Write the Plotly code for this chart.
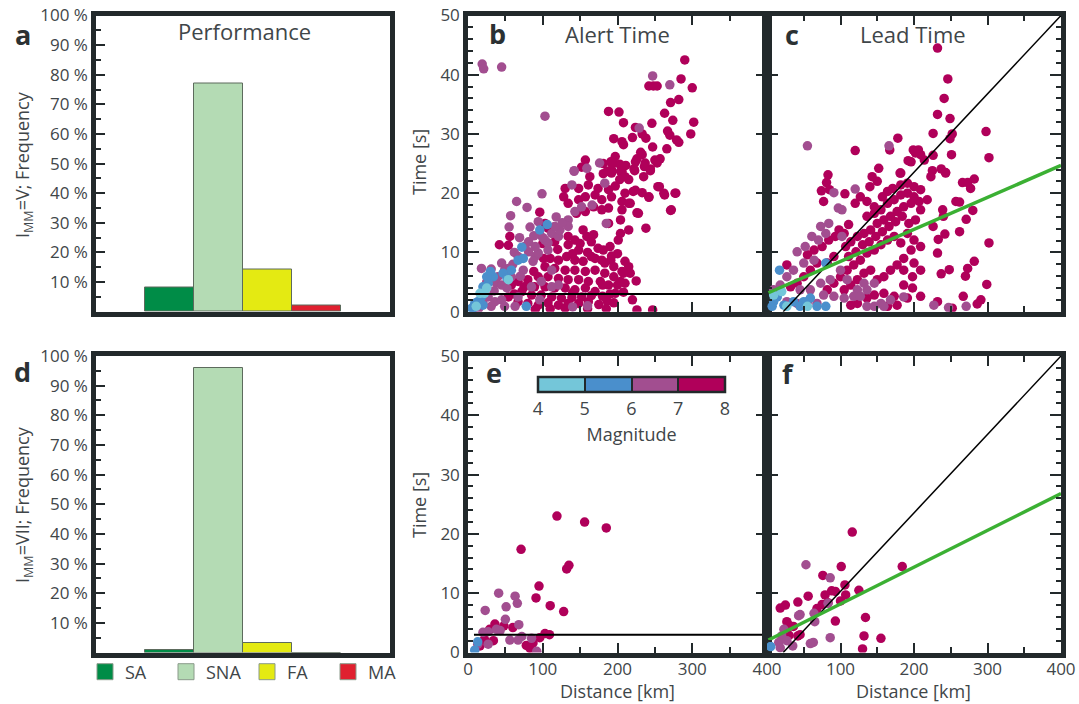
import plotly.graph_objects as go

# ---------------- data ----------------
categories = ["SA", "SNA", "FA", "MA"]
perf_v = [8.3, 77.1, 14.4, 2.2]      # I_MM = V
perf_vii = [1.0, 95.9, 3.1, 0.0]     # I_MM = VII
bar_colors = ["#008c47", "#b4dbb4", "#e4ea12", "#e0202f"]

mag_ticks = [4, 5, 6, 7, 8]
mag_colors = ["#74c6d9", "#4a8fcc", "#a24e90", "#b0005a"]

# ---- panel b : alert time (distance km, time s) ----
b_m7_x = [290, 242, 248, 253, 285, 300, 282, 271, 263, 188, 202, 274, 302, 208, 246, 224, 267, 270, 298, 233,
          238, 195, 220, 206, 208, 279, 282, 247, 266, 231, 233, 197, 226, 224, 157, 250, 257, 253, 181, 191,
          195, 203, 211, 237, 236, 152, 222, 244, 186, 192, 206,
          163, 181, 192, 204, 210, 223, 235, 244, 203, 215, 161, 174, 130, 148, 197, 188, 210, 221, 233, 242,
          256, 263, 277, 272, 238, 96, 128, 134, 148, 157, 170, 179, 192, 206, 217, 226, 206, 188, 179, 168,
          157, 145, 56, 42, 103, 107, 116, 101, 154, 159, 168, 165, 174, 181, 192, 179, 183, 165, 154, 143,
          134, 148, 132, 121, 110, 103, 116, 130, 143, 157, 170, 183, 195, 206, 215, 204, 188, 177, 161, 148,
          134, 121, 107, 94, 80, 67, 58, 89, 103, 116, 130, 143, 157, 170, 197, 72, 85, 98, 112, 125,
          139, 152, 165, 54, 67, 80, 94, 107, 121, 134, 148, 161, 226, 247, 215, 204, 204, 188, 134, 143,
          262, 271, 278, 242, 254, 224, 228, 215, 201, 191, 195, 217, 208, 200, 208, 190, 180, 175, 186, 54,
          120, 140, 160, 150, 170, 190, 200, 210, 100, 88, 75, 62, 140, 180, 210, 225, 220, 195, 185, 110, 90, 130, 160]
b_m7_y = [42.5, 38.1, 38.1, 38.1, 39.3, 37.8, 35.8, 35.3, 33.5, 33.8, 33.7, 32.3, 32.0, 31.9, 31.8, 31.1, 30.5, 29.8, 30.0, 30.0,
          29.3, 29.2, 29.4, 28.7, 28.2, 29.0, 28.6, 27.8, 27.5, 26.9, 26.5, 26.2, 25.8, 25.3, 25.6, 25.6, 25.8, 25.1, 25.0, 25.3,
          25.1, 24.9, 24.7, 25.1, 24.5, 24.4, 24.1, 24.1, 23.7, 24.0, 23.7,
          22.8, 23.3, 23.4, 23.7, 22.8, 23.8, 22.8, 23.8, 22.3, 22.3, 21.4, 20.8, 20.8, 20.8, 21.2, 20.6, 20.0, 20.3, 20.1, 19.3,
          21.1, 19.7, 20.0, 17.2, 14.1, 16.8, 19.4, 18.3, 18.9, 19.4, 19.7, 18.9, 19.4, 18.6, 18.3, 16.7, 17.2, 17.5, 17.2, 17.7,
          16.9, 16.6, 12.7, 11.3, 14.9, 14.1, 11.8, 9.0, 13.8, 12.7, 13.0, 11.8, 10.7, 10.4, 9.4, 8.7, 8.2, 9.3, 8.5, 8.7,
          11.3, 10.4, 9.3, 8.7, 9.0, 7.6, 7.3, 7.0, 7.0, 6.8, 7.0, 6.5, 5.9, 6.8, 7.6, 5.1, 4.5, 5.1, 5.1, 5.4,
          5.4, 5.6, 5.9, 5.9, 5.4, 5.1, 4.5, 4.2, 4.2, 4.0, 4.0, 3.7, 4.0, 3.4, 3.1, 3.4, 2.8, 2.8, 2.5, 2.3,
          2.4, 2.5, 2.7, 2.5, 1.7, 1.4, 1.1, 1.5, 1.1, 1.4, 1.4, 1.7, 0.3, 0.3, 13.8, 15.5, 13.2, 14.9, 12.7, 12.1,
          20.0, 17.1, 20.0, 19.4, 21.1, 20.5, 16.6, 18.3, 12.1, 8.7, 7.6, 6.5, 6.5, 4.5, 3.3, 3.0, 2.6, 1.2, 1.8, 11.2,
          10.5, 9.8, 10.0, 11.5, 9.0, 11.0, 9.8, 8.5, 11.5, 6.8, 4.2, 3.0, 3.2, 4.5, 4.8, 5.2, 2.0, 1.5, 0.5, 0.5, 0.4, 0.6, 0.5]
b_m6_x = [19, 21, 45, 103, 247, 270, 229, 176, 159, 142, 142, 183, 139, 99, 65, 79, 57, 55, 69, 83,
          94, 96, 112, 121, 107, 90, 81, 54, 45, 31, 94, 107, 123, 134, 143, 152, 166, 134, 116, 90,
          81, 67, 49, 40, 38, 45, 58, 112, 121, 98, 85, 96, 112, 185, 27, 36, 45, 49, 31, 67,
          63, 103, 87, 74, 126, 118, 100, 88, 76, 62, 60, 70, 52, 20, 35, 14, 25, 160, 140, 18]
b_m6_y = [41.8, 41.0, 41.3, 33.0, 39.8, 38.3, 31.0, 25.1, 24.2, 23.8, 23.7, 21.7, 21.4, 19.9, 18.6, 17.6, 16.2, 14.3, 12.5, 14.3,
          15.2, 13.0, 13.2, 12.7, 10.4, 9.3, 10.1, 7.3, 8.2, 7.2, 9.9, 11.6, 13.8, 15.5, 16.9, 17.7, 18.0, 14.4, 14.4, 11.0,
          11.8, 9.3, 7.0, 5.9, 4.8, 4.5, 5.9, 7.0, 4.5, 5.1, 4.2, 2.0, 4.2, 14.9, 2.5, 1.7, 2.0, 0.9, 0.9, 2.5,
          0.9, 12.1, 8.5, 7.0, 15.0, 16.0, 12.5, 12.8, 11.0, 10.0, 8.0, 6.0, 4.0, 1.5, 3.5, 0.5, 5.0, 1.0, 0.8, 7.3]
b_m5_x = [72, 67, 74, 58, 47, 34, 27, 20, 18, 13, 20, 9, 7, 78, 96, 106, 25, 30, 16, 52, 5]
b_m5_y = [10.9, 8.7, 9.0, 7.0, 6.5, 5.9, 4.8, 4.2, 2.5, 1.7, 1.1, 1.4, 0.6, 0.9, 13.8, 14.7, 5.9, 6.8, 1.7, 5.7, 0.6]
b_m4_x = [25, 22, 54, 11, 16]
b_m4_y = [4.0, 3.1, 5.4, 0.9, 3.1]

# ---- panel c : lead time ----
c_m7_x = [232, 246, 241, 232, 249, 226, 252, 249, 298, 302, 251, 226, 178, 167, 120, 199, 206, 202, 209, 214,
          192, 196, 152, 182, 225, 237, 243, 83,
          81, 74, 85, 106, 77, 120, 143, 140, 150, 181, 223, 243, 266, 273, 282, 277, 257, 262, 280, 239,
          240, 271, 262, 302, 242, 233, 226, 232, 282, 273, 248, 237, 270, 299, 267, 291, 286, 252, 232,
          127, 136, 146, 157, 164, 171, 182, 191, 200, 209, 218, 207, 196, 186, 177, 168, 159, 150, 141, 132,
          123, 114, 107, 136, 146, 155, 164, 173, 182, 191, 200, 209, 202, 193, 184, 175, 166, 157, 148, 139,
          130, 121, 111, 191, 200, 209, 196, 182, 173, 164, 155, 146, 136, 127, 118, 109, 100, 91, 82, 186,
          200, 209, 198, 186, 177, 168, 159, 150, 141, 132, 123, 114, 105, 186, 198, 209, 191, 173, 159, 146,
          136, 123, 114, 177, 164, 68, 59, 50, 41, 32, 27, 55, 64, 75, 84, 93, 98, 111, 105, 91, 82]
c_m7_y = [44.5, 39.3, 36.0, 33.3, 32.6, 30.1, 30.0, 29.2, 30.4, 26.0, 26.5, 26.4, 29.3, 27.3, 27.2, 27.3, 27.3, 26.8, 26.5, 25.6,
          25.5, 25.3, 24.2, 23.4, 23.8, 24.1, 23.5, 23.1,
          21.8, 20.4, 20.6, 19.9, 18.6, 18.3, 22.8, 21.1, 22.0, 23.4, 22.8, 23.4, 21.8, 21.8, 22.4, 20.8, 18.6, 18.5, 17.1, 17.2,
          16.1, 15.6, 13.5, 11.6, 13.1, 12.2, 14.4, 9.9, 8.5, 7.3, 7.1, 6.4, 6.0, 4.6, 2.6, 2.0, 1.3, 0.6, 1.7,
          19.4, 18.6, 17.7, 19.4, 20.3, 20.8, 21.4, 21.7, 21.1, 20.6, 18.9, 18.6, 18.3, 17.7, 16.9, 16.1, 15.5, 14.9, 13.8, 13.2,
          12.7, 11.8, 11.0, 16.1, 16.6, 17.2, 18.3, 18.9, 19.7, 20.0, 19.4, 17.2, 15.5, 14.9, 16.1, 15.2, 14.4, 13.5, 12.7, 11.8,
          11.3, 10.1, 9.3, 13.2, 12.1, 11.0, 10.4, 11.6, 12.7, 12.1, 11.3, 10.4, 9.9, 8.7, 7.9, 7.0, 5.9, 4.8, 3.7, 9.0,
          8.2, 7.0, 5.9, 7.0, 7.9, 7.0, 5.9, 5.4, 7.0, 6.5, 5.4, 4.5, 3.7, 4.5, 4.0, 2.6, 2.3, 2.6, 3.1, 2.8,
          2.3, 1.4, 1.1, 1.1, 0.9, 8.2, 7.0, 5.9, 4.8, 4.2, 7.9, 9.6, 10.4, 11.0, 12.1, 12.7, 13.8, 14.7, 13.2, 9.3, 8.2]
c_m6_x = [41, 52, 61, 70, 73, 84, 102, 80, 64, 50, 36, 27, 18, 9, 45, 59, 73, 86, 100, 109,
          123, 136, 146, 132, 118, 105, 91, 77, 68, 55, 41, 27, 136, 155, 168, 159, 146, 127, 55, 166,
          97, 102, 120, 91, 227, 271, 247, 186]
c_m6_y = [10.1, 11.0, 12.7, 12.1, 14.4, 14.9, 12.7, 13.2, 8.7, 8.2, 7.0, 5.9, 4.5, 3.7, 3.7, 3.7, 4.8, 5.4, 7.0, 5.4,
          3.7, 3.7, 4.8, 4.8, 2.6, 2.3, 2.6, 2.8, 1.4, 1.7, 1.4, 1.7, 0.9, 1.4, 2.0, 0.9, 0.9, 2.6, 28.0, 28.0,
          17.5, 17.2, 20.7, 20.1, 1.1, 0.9, 0.7, 2.5]
c_m5_x = [17, 14, 9, 23, 36, 50, 59, 68, 80, 45, 7, 80]
c_m5_y = [7.0, 2.5, 1.7, 1.1, 1.7, 1.7, 2.3, 0.9, 0.9, 0.9, 0.9, 8.2]
c_m4_x = [9, 20, 27, 55]
c_m4_y = [2.8, 3.4, 0.9, 0.9]

# ---- panel e : alert time, I_MM = VII ----
e_m7_x = [119, 156, 185, 71, 132, 135, 95, 91, 110, 128, 36, 60, 48, 34, 22, 29, 103, 109, 96, 87, 78, 83, 16]
e_m7_y = [23.0, 22.0, 21.0, 17.4, 14.1, 14.7, 11.2, 9.2, 7.9, 6.9, 4.8, 4.2, 4.5, 2.0, 2.2, 3.9, 3.2, 3.0, 2.5, 1.6, 1.2, 0.7, 1.1]
e_m6_x = [41, 63, 66, 51, 23, 50, 68, 38, 43, 20, 27, 72, 56, 67, 85, 13, 27, 92]
e_m6_y = [10.0, 9.5, 8.3, 7.7, 7.1, 5.6, 4.7, 3.9, 3.7, 3.4, 3.5, 2.7, 2.1, 2.1, 2.4, 1.4, 1.4, 0.2]
e_m5_x = [9, 13]
e_m5_y = [0.4, 1.8]

# ---- panel f : lead time, I_MM = VII ----
f_m7_x = [116, 184, 101, 76, 106, 125, 88, 93, 79, 56, 107, 100, 42, 25, 18, 75, 68, 83, 93, 134, 27, 31, 30, 45, 42, 132, 155, 130, 36]
f_m7_y = [20.3, 14.5, 14.5, 13.0, 11.4, 10.5, 10.4, 10.3, 9.7, 9.5, 9.7, 8.7, 8.5, 8.0, 7.5, 8.1, 7.4, 8.4, 5.3, 5.9, 5.2, 4.5, 2.9, 3.0, 2.8, 2.8, 2.4, 0.6, 4.4]
f_m6_x = [53, 86, 45, 43, 64, 65, 83, 23, 20, 16, 27, 35, 18, 63, 59, 86]
f_m6_y = [14.8, 12.6, 6.4, 6.2, 6.6, 5.2, 8.3, 3.9, 2.8, 1.7, 2.0, 1.1, 0.8, 1.7, 1.5, 2.5]
f_m5_x = [5]
f_m5_y = [1.0]

# reference lines
alert_level = 3.0
alert_line_b_x = [0, 400]
alert_line_e_x = [8, 400]
diag_x = [22, 400]
diag_y = [0, 50]
fit_c_x = [2, 400]
fit_c_y = [3.2, 24.7]
fit_f_x = [2, 400]
fit_f_y = [2.1, 26.8]

# ---------------- style ----------------
FR = "#22292b"
TXT = "#3f4649"
FONT = "Open Sans"
W, H = 1079, 704

cs = [[0, mag_colors[0]], [0.25, mag_colors[0]], [0.25, mag_colors[1]], [0.5, mag_colors[1]],
      [0.5, mag_colors[2]], [0.75, mag_colors[2]], [0.75, mag_colors[3]], [1, mag_colors[3]]]

fig = go.Figure()

# bars
for vals, ax in [(perf_v, ("x", "y")), (perf_vii, ("x4", "y4"))]:
    fig.add_trace(go.Bar(x=categories, y=vals, marker=dict(color=bar_colors, line=dict(color="#5d6b5d", width=1)),
                         width=1, xaxis=ax[0], yaxis=ax[1], showlegend=False, hoverinfo="skip"))

# legend entries
for cat, col in zip(categories, bar_colors):
    fig.add_trace(go.Scatter(x=[None], y=[None], mode="markers", name=cat,
                             marker=dict(symbol="square", size=19, color=col, line=dict(color="#8a9a8a", width=1)),
                             xaxis="x4", yaxis="y4"))


def add_points(xs, ys, mag, ax, showscale=False):
    marker = dict(size=9.5, color=[mag] * len(xs), colorscale=cs, cmin=4, cmax=8, line=dict(width=0), opacity=1)
    if showscale:
        marker.update(showscale=True, colorbar=dict(
            orientation="h", x=631.5 / W, xanchor="center", y=1 - 377 / H, yanchor="top",
            len=187 / W, lenmode="fraction", thickness=15, outlinewidth=2.5, outlinecolor=FR,
            xpad=0, ypad=0,
            tickmode="array", tickvals=mag_ticks, ticks="inside", ticklen=15, tickwidth=2, tickcolor=FR,
            tickfont=dict(size=18, color=TXT, family=FONT),
            title=dict(text="Magnitude", side="bottom", font=dict(size=18, color=TXT, family=FONT))))
    fig.add_trace(go.Scatter(x=xs, y=ys, mode="markers", marker=marker, xaxis=ax[0], yaxis=ax[1],
                             showlegend=False, hoverinfo="skip"))


for ax, groups in [
    (("x2", "y2"), [(b_m7_x, b_m7_y, 7.5), (b_m6_x, b_m6_y, 6.5), (b_m5_x, b_m5_y, 5.5), (b_m4_x, b_m4_y, 4.5)]),
    (("x3", "y3"), [(c_m7_x, c_m7_y, 7.5), (c_m6_x, c_m6_y, 6.5), (c_m5_x, c_m5_y, 5.5), (c_m4_x, c_m4_y, 4.5)]),
    (("x5", "y5"), [(e_m7_x, e_m7_y, 7.5), (e_m6_x, e_m6_y, 6.5), (e_m5_x, e_m5_y, 5.5)]),
    (("x6", "y6"), [(f_m7_x, f_m7_y, 7.5), (f_m6_x, f_m6_y, 6.5), (f_m5_x, f_m5_y, 5.5)]),
]:
    for i, (xs, ys, m) in enumerate(groups):
        add_points(xs, ys, m, ax, showscale=(ax[0] == "x5" and i == 0))

# reference lines
line_style = dict(mode="lines", showlegend=False, hoverinfo="skip")
fig.add_trace(go.Scatter(x=alert_line_b_x, y=[alert_level] * 2, line=dict(color="black", width=2), xaxis="x2", yaxis="y2", **line_style))
fig.add_trace(go.Scatter(x=alert_line_e_x, y=[alert_level] * 2, line=dict(color="black", width=2), xaxis="x5", yaxis="y5", **line_style))
for ax, fx, fy in [(("x3", "y3"), fit_c_x, fit_c_y), (("x6", "y6"), fit_f_x, fit_f_y)]:
    fig.add_trace(go.Scatter(x=diag_x, y=diag_y, line=dict(color="black", width=1.5), xaxis=ax[0], yaxis=ax[1], **line_style))
    fig.add_trace(go.Scatter(x=fx, y=fy, line=dict(color="#3bb033", width=3.5), xaxis=ax[0], yaxis=ax[1], **line_style))

# ---------------- axes ----------------
xa_bar = [96 / W, 390 / W]
xb = [468 / W, 767 / W]
xc = [767 / W, 1061 / W]
y_top = [1 - 311.7 / H, 1 - 15.5 / H]
y_bot = [1 - 652.5 / H, 1 - 356 / H]

base = dict(showline=True, linewidth=4.5, linecolor=FR, showgrid=False, zeroline=False, automargin=False,
            tickfont=dict(size=17, color=TXT, family=FONT), tickcolor=FR, tickwidth=2)

pct_vals = list(range(10, 101, 10))
pct_text = [f"{v} %" for v in pct_vals]


def bar_x(domain, anchor):
    return dict(base, domain=domain, anchor=anchor, type="category", range=[-1.5, 4.5],
                showticklabels=False, ticks="", mirror=True)


def bar_y(domain, anchor):
    return dict(base, domain=domain, anchor=anchor, range=[0, 100], tickmode="array", tickvals=pct_vals,
                ticktext=pct_text, ticks="inside", ticklen=9, mirror=True,
                minor=dict(dtick=5, tick0=0, ticks="inside", ticklen=5, tickwidth=2, tickcolor=FR))


def sc_x(domain, anchor, labels):
    d = dict(base, domain=domain, anchor=anchor, range=[0, 400], ticks="inside", ticklen=10, mirror="allticks",
             minor=dict(dtick=50, tick0=0, ticks="inside", ticklen=6, tickwidth=2, tickcolor=FR))
    if labels is None:
        d.update(dtick=100, tick0=0, showticklabels=False)
    else:
        d.update(tickmode="array", tickvals=labels, ticktext=[str(v) for v in labels], ticklabelstandoff=-3)
    return d


def sc_y(domain, anchor, show):
    return dict(base, domain=domain, anchor=anchor, range=[0, 50], dtick=10, tick0=0, ticks="inside", ticklen=11,
                mirror="allticks", showticklabels=show,
                minor=dict(dtick=2, tick0=0, ticks="inside", ticklen=5, tickwidth=2, tickcolor=FR))


fig.update_layout(
    width=W, height=H, margin=dict(l=0, r=0, t=0, b=0, pad=0, autoexpand=False),
    paper_bgcolor="white", plot_bgcolor="white",
    font=dict(family=FONT, color=TXT),
    bargap=0,
    xaxis=bar_x(xa_bar, "y"), yaxis=bar_y(y_top, "x"),
    xaxis4=bar_x(xa_bar, "y4"), yaxis4=bar_y(y_bot, "x4"),
    xaxis2=sc_x(xb, "y2", None), yaxis2=sc_y(y_top, "x2", True),
    xaxis3=sc_x(xc, "y3", None), yaxis3=sc_y(y_top, "x3", False),
    xaxis5=sc_x(xb, "y5", [0, 100, 200, 300, 400]), yaxis5=sc_y(y_bot, "x5", True),
    xaxis6=sc_x(xc, "y6", [100, 200, 300, 400]), yaxis6=sc_y(y_bot, "x6", False),
    legend=dict(orientation="h", x=85 / W, y=1 - 672 / H, xanchor="left", yanchor="middle",
                entrywidth=36, entrywidthmode="pixels",
                font=dict(size=18, color=TXT, family=FONT), bgcolor="rgba(0,0,0,0)", itemclick=False),
)


def ann(text, x, y, size, bold=False, angle=0):
    fig.add_annotation(text=f"<b>{text}</b>" if bold else text, x=x / W, y=1 - y / H, xref="paper", yref="paper",
                       showarrow=False, textangle=angle, xanchor="center", yanchor="middle",
                       font=dict(size=size, color=("#2b3133" if bold else TXT), family=FONT))


ann("Performance", 244, 31, 22)
ann("Alert Time", 617, 34, 22)
ann("Lead Time", 913, 34, 22)
for letter, x, y in [("a", 23, 34), ("b", 497, 33), ("c", 792, 35), ("d", 22, 371), ("e", 494, 372), ("f", 788, 373)]:
    ann(letter, x, y, 27, bold=True)
ann("I<sub>MM</sub>=V; Frequency", 23, 165, 18, angle=-90)
ann("I<sub>MM</sub>=VII; Frequency", 23, 505, 18, angle=-90)
ann("Time [s]", 419, 162, 18, angle=-90)
ann("Time [s]", 419, 505, 18, angle=-90)
ann("Distance [km]", 617, 691, 18)
ann("Distance [km]", 913, 691, 18)

fig.write_html("out.html", config={"displayModeBar": False},
               post_script="document.body.style.margin='0';")
